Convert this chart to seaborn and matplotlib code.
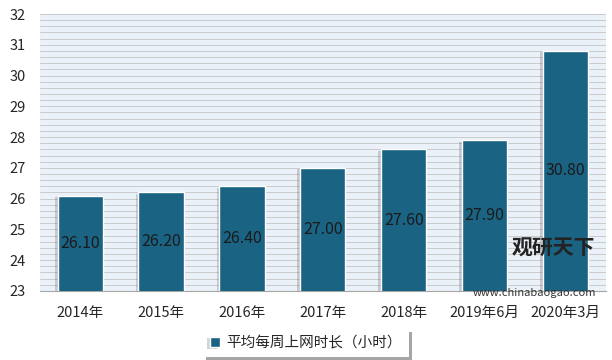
import numpy as np
import pandas as pd
import matplotlib
matplotlib.use('Agg')
import matplotlib.pyplot as plt
import matplotlib.patheffects as pe
import seaborn as sns

# data
years = ['2014年', '2015年', '2016年', '2017年', '2018年', '2019年6月', '2020年3月']
hours = [26.10, 26.20, 26.40, 27.00, 27.60, 27.90, 30.80]
series_name = '平均每周上网时长（小时）'

df = pd.DataFrame({'year': years, 'hours': hours})

sns.set_style('white')
plt.rcParams['font.family'] = ['Noto Sans CJK SC', 'DejaVu Sans']

fig = plt.figure(figsize=(6.12, 3.6), dpi=100)
ax = fig.add_axes([0.065, 0.192, 0.925, 0.769])
ax.set_facecolor('#EBF1F8')

# striped background lines
for y in np.arange(23, 32.01, 0.2):
    ax.axhline(y, color='#C4C4C4', lw=0.6, zorder=0)

sns.barplot(data=df, x='year', y='hours', color='#1A6383', width=0.56,
            saturation=1, ax=ax, zorder=3, label=series_name)
for p in ax.patches:
    p.set_path_effects([pe.SimplePatchShadow(offset=(-2, -1), shadow_rgbFace='#555555', alpha=0.25),
                        pe.Normal()])

ax.set_ylim(23, 32)
ax.set_yticks(range(23, 33))
ax.set_xlabel('')
ax.set_ylabel('')
ax.tick_params(axis='both', length=0, labelsize=10.5, colors='#262626')
ax.tick_params(axis='x', pad=11)
ax.tick_params(axis='y', pad=10)
for s in ['top', 'right', 'left']:
    ax.spines[s].set_visible(False)
ax.spines['bottom'].set_color('#A6A6A6')

for i, v in enumerate(hours):
    ax.text(i, (23 + v) / 2, f'{v:.2f}', ha='center', va='center',
            fontsize=11.5, color='#1a1a1a', zorder=5)

leg = ax.legend(loc='center', bbox_to_anchor=(0.5, 0.047), bbox_transform=fig.transFigure,
                frameon=True, fontsize=10.5, handlelength=0.7, handleheight=0.7,
                handletextpad=0.4, fancybox=False, shadow=True, borderpad=0.5,
                borderaxespad=0)
leg.get_frame().set_edgecolor('white')
leg.get_frame().set_linewidth(0)

# watermark
fig.text(0.905, 0.311, '观研天下', fontsize=15, fontweight='bold', color='#222222',
         ha='center', va='center')
fig.text(0.874, 0.185, 'www.chinabaogao.com', fontsize=8, color='#333333',
         ha='center', va='center')

fig.savefig('out.png', dpi=100)
